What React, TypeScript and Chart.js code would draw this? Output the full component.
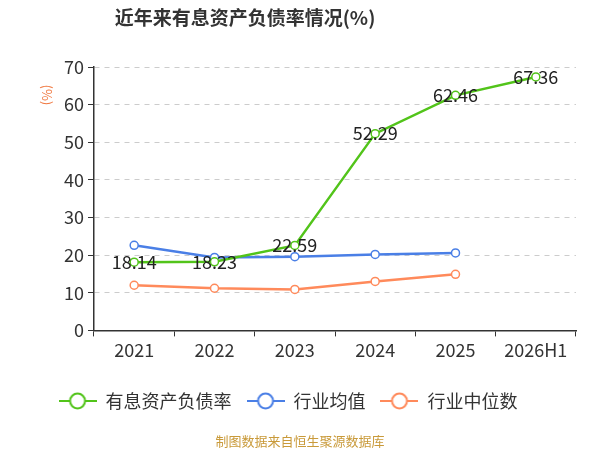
import React, { useEffect, useRef } from 'react';
import { Chart, registerables } from 'chart.js';

Chart.register(...registerables);

const categories = ['2021', '2022', '2023', '2024', '2025', '2026H1'];
const debtRatio = [18.14, 18.23, 22.59, 52.29, 62.46, 67.36];
const industryAvg = [22.6, 19.4, 19.6, 20.2, 20.6, null];
const industryMedian = [12.0, 11.2, 10.9, 13.0, 14.9, null];
const seriesNames = ['有息资产负债率', '行业均值', '行业中位数'];
const colors = ['#52c41a', '#4a7fe6', '#ff8a5b'];

const FONT = "'Noto Sans CJK SC', 'Noto Sans', sans-serif";

// legend marker: line with a hollow circle
const makeMarker = (color: string) => {
  const c = document.createElement('canvas');
  c.width = 38;
  c.height = 18;
  const ctx = c.getContext('2d')!;
  ctx.strokeStyle = color;
  ctx.lineWidth = 2;
  ctx.beginPath();
  ctx.moveTo(0, 9);
  ctx.lineTo(38, 9);
  ctx.stroke();
  ctx.beginPath();
  ctx.arc(19, 9, 7.5, 0, Math.PI * 2);
  ctx.fillStyle = '#fff';
  ctx.fill();
  ctx.stroke();
  return c;
};

const extrasPlugin = {
  id: 'extras',
  afterDatasetsDraw(chart: any) {
    const { ctx } = chart;
    ctx.save();
    // value labels on the main series
    const meta = chart.getDatasetMeta(0);
    ctx.font = `18px ${FONT}`;
    ctx.fillStyle = '#222';
    ctx.textAlign = 'center';
    ctx.textBaseline = 'middle';
    meta.data.forEach((pt: any, i: number) => {
      ctx.fillText(debtRatio[i].toFixed(2), pt.x, pt.y);
    });
    ctx.restore();
  },
  afterDraw(chart: any) {
    const { ctx } = chart;
    ctx.save();
    ctx.font = `bold 19px ${FONT}`;
    ctx.fillStyle = '#333';
    ctx.textAlign = 'center';
    ctx.textBaseline = 'middle';
    ctx.fillText('近年来有息资产负债率情况(%)', 245, 18);

    ctx.font = `13px ${FONT}`;
    ctx.fillStyle = '#c99a3a';
    ctx.fillText('制图数据来自恒生聚源数据库', 300, 441);

    ctx.translate(47, 95);
    ctx.rotate(Math.PI / 2);
    ctx.font = `13px ${FONT}`;
    ctx.fillStyle = '#f07840';
    ctx.fillText('(%)', 0, 0);
    ctx.restore();
  },
};

export default function App() {
  const chartRef = useRef<HTMLCanvasElement>(null);
  const chartInstance = useRef<Chart | null>(null);

  useEffect(() => {
    document.body.style.margin = '0';
    if (!chartRef.current) return;
    if (chartInstance.current) chartInstance.current.destroy();
    const ctx = chartRef.current.getContext('2d');
    if (!ctx) return;

    const markers = colors.map(makeMarker);
    const values = [debtRatio, industryAvg, industryMedian];

    chartInstance.current = new Chart(ctx, {
      type: 'line',
      data: {
        labels: categories,
        datasets: values.map((v, i) => ({
          label: seriesNames[i],
          data: v,
          borderColor: colors[i],
          backgroundColor: '#fff',
          pointBackgroundColor: '#fff',
          pointBorderColor: colors[i],
          pointRadius: 4,
          pointBorderWidth: 1.5,
          borderWidth: 2.5,
          tension: 0,
          order: i === 0 ? 0 : 1,
        })),
      },
      options: {
        responsive: false,
        animation: false,
        layout: { padding: { top: 67, right: 24, bottom: 30, left: 0 } },
        plugins: {
          title: { display: false },
          tooltip: { enabled: false },
          legend: {
            position: 'bottom',
            labels: {
              usePointStyle: true,
              pointStyleWidth: 38,
              boxHeight: 18,
              padding: 15,
              color: '#333',
              font: { size: 18, family: FONT },
              generateLabels: (chart: any) =>
                Chart.defaults.plugins.legend.labels
                  .generateLabels(chart)
                  .map((l: any, i: number) => ({ ...l, pointStyle: markers[i] })),
            },
          },
        },
        scales: {
          x: {
            offset: true,
            afterFit: (scale: any) => {
              scale.height += 13;
            },
            grid: {
              display: true,
              drawOnChartArea: false,
              offset: true,
              tickLength: 6,
              tickColor: '#333',
            },
            border: { color: '#333', width: 1.5 },
            ticks: { color: '#333', font: { size: 18, family: FONT }, padding: 3 },
          },
          y: {
            min: 0,
            max: 70,
            afterFit: (scale: any) => {
              scale.width = 94;
            },
            grid: {
              color: '#cccccc',
              tickColor: '#333',
              tickLength: 6,
              tickBorderDash: [],
            },
            border: { color: '#333', width: 1.5, dash: [5, 5] },
            ticks: {
              stepSize: 10,
              color: '#333',
              font: { size: 18, family: FONT },
              padding: 4,
            },
          },
        },
      },
      plugins: [extrasPlugin],
    });

    return () => {
      if (chartInstance.current) {
        chartInstance.current.destroy();
        chartInstance.current = null;
      }
    };
  }, []);

  return (
    <div style={{ width: 600, height: 450 }}>
      <canvas ref={chartRef} width={600} height={450} />
    </div>
  );
}
